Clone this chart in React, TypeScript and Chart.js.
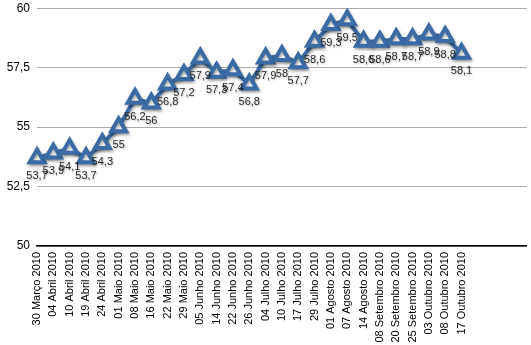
import React, { useEffect, useRef } from "react";
import { Chart, registerables } from "chart.js";

Chart.register(...registerables);

const categories: string[] = [
  "30 Março 2010", "04 Abril 2010", "10 Abril 2010", "19 Abril 2010", "24 Abril 2010",
  "01 Maio 2010", "08 Maio 2010", "16 Maio 2010", "22 Maio 2010", "29 Maio 2010",
  "05 Junho 2010", "14 Junho 2010", "22 Junho 2010", "26 Junho 2010",
  "04 Julho 2010", "10 Julho 2010", "17 Julho 2010", "29 Julho 2010",
  "01 Agosto 2010", "07 Agosto 2010", "14 Agosto 2010",
  "08 Setembro 2010", "20 Setembro 2010", "25 Setembro 2010",
  "03 Outubro 2010", "08 Outubro 2010", "17 Outubro 2010",
];
const emptySlots: string[] = ["", "", "", ""];

const values: number[] = [
  53.7, 53.9, 54.1, 53.7, 54.3, 55, 56.2, 56, 56.8, 57.2,
  57.9, 57.3, 57.4, 56.8, 57.9, 58, 57.7, 58.6, 59.3, 59.5,
  58.6, 58.6, 58.7, 58.7, 58.9, 58.8, 58.1,
];

const yMin = 50;
const yMax = 60;
const yStep = 2.5;

const BLUE = "#3b6aa5";
const FONT = "'Liberation Sans', Arial, Helvetica, sans-serif";

const fmt = (v: number) => String(v).replace(".", ",");

const shadowPlugin = {
  id: "lineShadow",
  beforeDatasetDraw(chart: any) {
    const ctx = chart.ctx;
    ctx.save();
    ctx.shadowColor = "rgba(0,0,0,0.35)";
    ctx.shadowBlur = 3;
    ctx.shadowOffsetX = 1;
    ctx.shadowOffsetY = 2;
  },
  afterDatasetDraw(chart: any) {
    chart.ctx.restore();
  },
};

const labelPlugin = {
  id: "valueLabels",
  afterDatasetsDraw(chart: any) {
    const ctx = chart.ctx;
    const meta = chart.getDatasetMeta(0);
    const data = chart.data.datasets[0].data as number[];
    ctx.save();
    ctx.font = `11px ${FONT}`;
    ctx.textAlign = "center";
    ctx.textBaseline = "middle";
    ctx.fillStyle = "#2a2a2a";
    ctx.shadowColor = "rgba(0,0,0,0.3)";
    ctx.shadowBlur = 2;
    ctx.shadowOffsetX = 1;
    ctx.shadowOffsetY = 1;
    meta.data.forEach((pt: any, i: number) => {
      ctx.fillText(fmt(data[i]), pt.x, pt.y + 18);
    });
    ctx.restore();
  },
};

export default function App() {
  const ref = useRef<HTMLCanvasElement | null>(null);

  useEffect(() => {
    document.body.style.margin = "0";
    if (!ref.current) return;
    const chart = new Chart(ref.current, {
      type: "line",
      data: {
        labels: [...categories, ...emptySlots],
        datasets: [
          {
            data: values,
            borderColor: BLUE,
            borderWidth: 4,
            tension: 0,
            pointStyle: "triangle",
            pointRadius: 8.5,
            pointBorderWidth: 4,
            pointBackgroundColor: "#ffffff",
            pointBorderColor: BLUE,
          },
        ],
      },
      options: {
        responsive: false,
        animation: false,
        layout: { padding: { top: 0, right: 4, left: 0, bottom: 0 } },
        plugins: {
          legend: { display: false },
          tooltip: { enabled: false },
        },
        scales: {
          x: {
            type: "category",
            offset: false,
            grid: { display: false, drawTicks: false },
            border: { display: true, color: "#000", width: 1.5 },
            ticks: {
              autoSkip: false,
              maxRotation: 90,
              minRotation: 90,
              padding: 6,
              color: "#000",
              font: { size: 11, family: FONT },
            },
            afterFit: (scale: any) => {
              scale.height = 101;
            },
          },
          y: {
            min: yMin,
            max: yMax,
            grid: { color: "#aaaaaa", lineWidth: 1, drawTicks: false },
            border: { display: false },
            ticks: {
              stepSize: yStep,
              padding: 7,
              color: "#000",
              font: { size: 12, family: FONT },
              callback: (v: any) => fmt(Number(v)),
            },
            afterFit: (scale: any) => {
              scale.width = 37;
            },
          },
        },
      },
      plugins: [shadowPlugin, labelPlugin],
    });
    return () => chart.destroy();
  }, []);

  return (
    <div style={{ position: "absolute", left: 0, top: 0, width: 531, height: 345, overflow: "hidden" }}>
      <canvas ref={ref} width={546} height={353} style={{ display: "block", marginTop: -6 }} />
    </div>
  );
}
